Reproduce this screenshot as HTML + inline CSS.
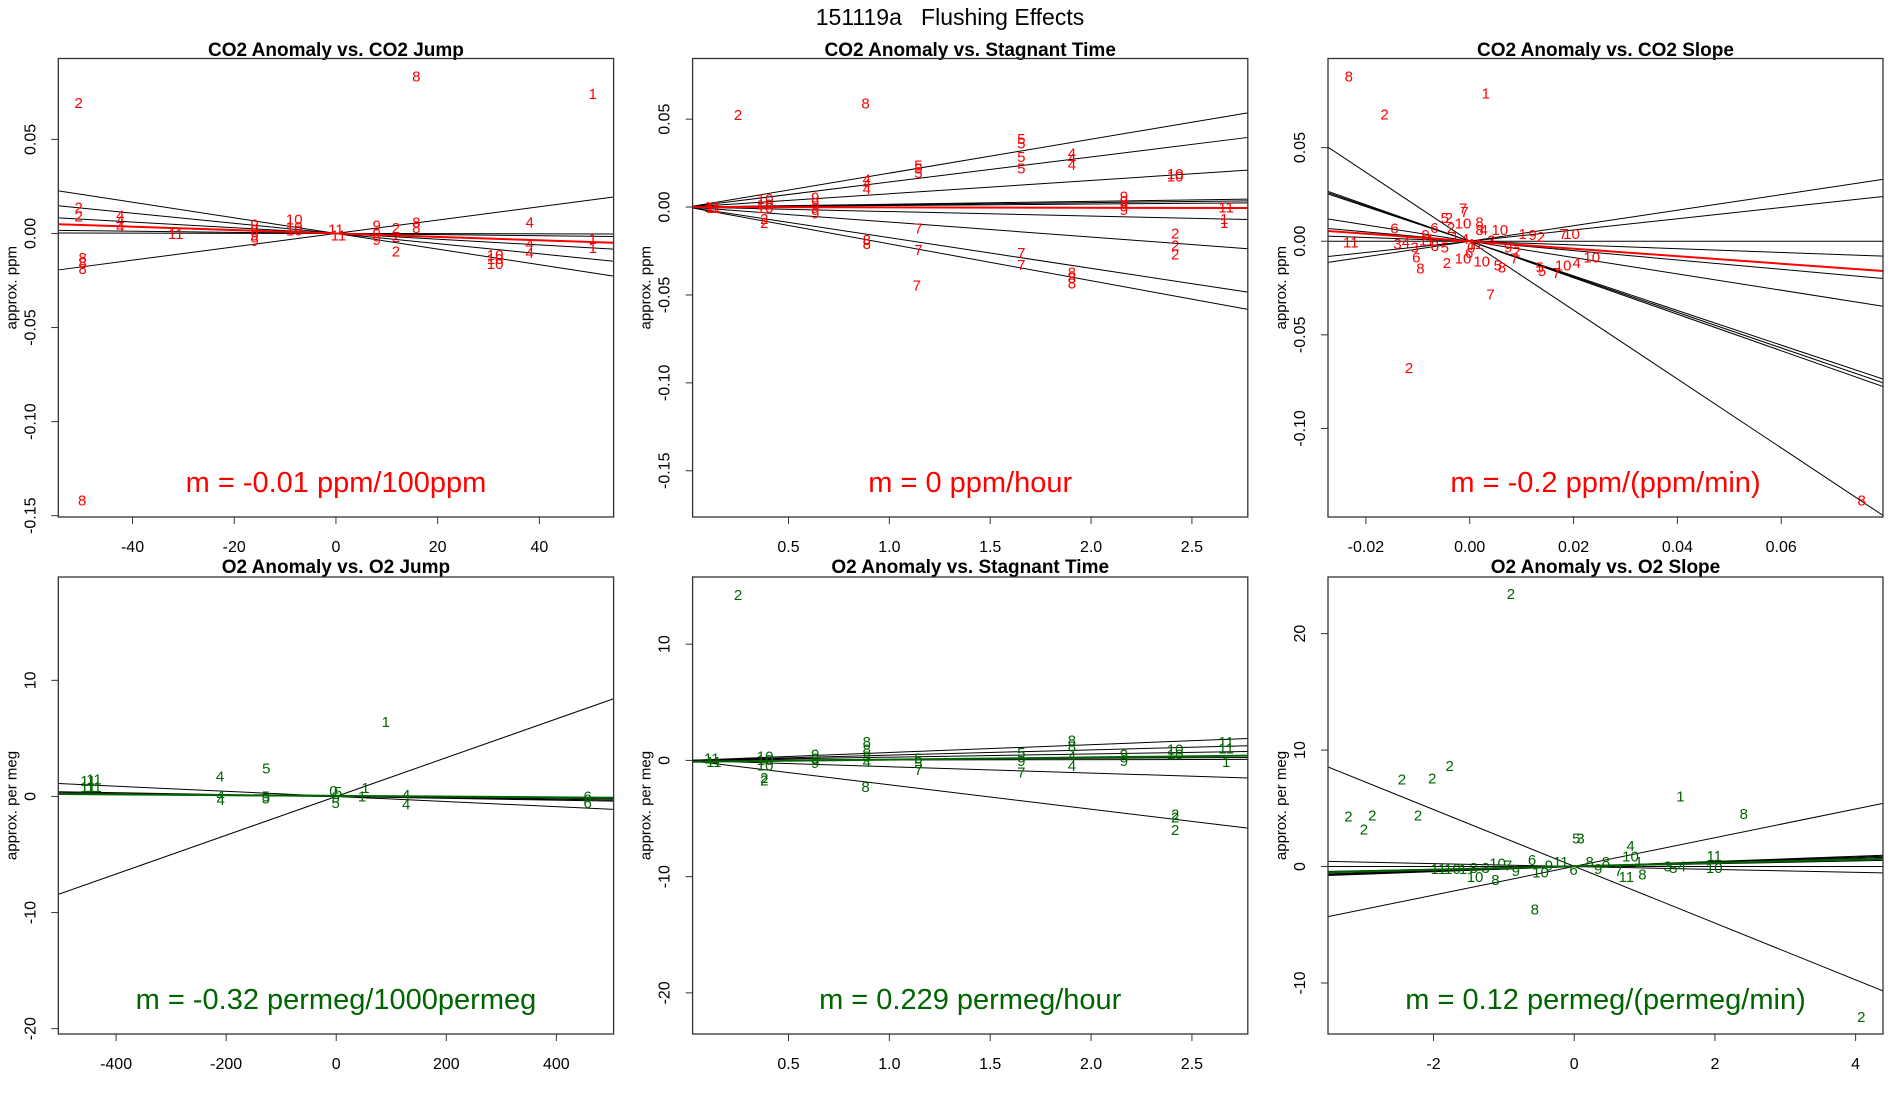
<!DOCTYPE html>
<html><head><meta charset="utf-8"><style>
html,body{margin:0;padding:0;background:#fff;}
svg{display:block;font-family:"Liberation Sans",sans-serif;}
</style></head><body>
<svg id="chart" width="1900" height="1100" viewBox="0 0 1900 1100" xmlns="http://www.w3.org/2000/svg">
<rect width="1900" height="1100" fill="#fff"/>
<text x="950" y="25" text-anchor="middle" font-size="23" style="white-space:pre" xml:space="preserve">151119a   Flushing Effects</text>
</svg>
<script>
// ---- Panel 1: CO2 Anomaly vs CO2 Jump ----
const p1X=[-50.6,15.8,50.5,-50.6,-50.6,-42.4,-42.4,-42.4,-31.5,-16,-16,-16,-16,-8.2,-8.2,-8.2,0,0.5,8,8,8,11.8,11.8,11.8,15.8,15.8,38.1,38.1,38.1,31.3,31.3,31.3,50.5,50.5,-49.8,-49.8,-49.8,-49.9];
const p1Y=[0.0693,0.0834,0.074,0.0137,0.009,0.0095,0.007,0.0034,-0.0004,0.0048,0.0019,-0.001,-0.004,0.0073,0.0034,0.0015,0.002,-0.001,0.0042,0,-0.0034,0.0029,-0.0019,-0.0095,0.0057,0.0029,0.0057,-0.0057,-0.0105,-0.0115,-0.0137,-0.0162,-0.0029,-0.0076,-0.013,-0.0158,-0.019,-0.142];
const p1Lab=["2","8","1","2","2","4","4","4","11","9","9","9","9","10","10","10","11","11","9","9","9","2","2","2","8","8","4","4","4","10","10","10","1","1","8","8","8","8"];
const p1LineA=[0,0,0,0,0,0];
const p1LineB=[-0.000415,-0.00027,-0.000152,-0.00003,-0.000005,0.000355];
const p1FitA=[0];
const p1FitB=[-0.00009];

// ---- Panel 2: CO2 Anomaly vs Stagnant Time ----
const p2X=[0.25,0.882,1.654,1.654,1.654,1.654,1.905,1.905,1.905,1.144,1.144,1.144,0.888,0.888,0.888,2.417,2.417,0.12,0.13,0.384,0.384,0.384,0.632,0.632,0.632,0.632,2.163,2.163,2.163,2.163,2.67,2.66,2.66,0.38,0.38,0.888,0.888,1.144,1.144,1.136,1.654,1.654,1.905,1.905,1.905,2.417,2.417,2.417];
const p2Y=[0.0524,0.059,0.0386,0.0361,0.0286,0.0218,0.0304,0.0276,0.0239,0.0235,0.0218,0.0194,0.0157,0.0131,0.0102,0.0188,0.0173,0,-0.0006,0.0045,0.0014,-0.0006,0.0055,0.0024,-0.0006,-0.0037,0.0059,0.0035,0.0004,-0.0016,-0.0002,-0.0067,-0.0092,-0.0067,-0.0092,-0.0186,-0.021,-0.0122,-0.0245,-0.0445,-0.0261,-0.0329,-0.0373,-0.0404,-0.0435,-0.0149,-0.022,-0.0271];
const p2Lab=["2","8","5","5","5","5","4","4","4","5","5","5","4","4","4","10","10","11","11","10","10","10","9","9","9","9","9","9","9","9","11","1","1","2","2","8","8","7","7","7","7","7","8","8","8","2","2","2"];
const p2LineA=[0,0,0,0,0,0,0,0,0,0];
const p2LineB=[0.0193,0.01426,0.00756,0.00162,0.00126,0.00086,-0.00256,-0.00853,-0.01743,-0.02096];
const p2FitA=[0];
const p2FitB=[-0.0002];

// ---- Panel 3: CO2 Anomaly vs CO2 Slope ----
const p3X=[-0.0233,0.0031,-0.0164,-0.0117,0.004,0.0755,-0.0145,-0.0229,-0.0139,-0.0123,-0.0106,-0.0103,-0.0095,-0.0013,-0.001,-0.0048,-0.004,-0.0068,-0.0036,-0.0013,0.0019,0.0019,0.0027,0.0058,0.0102,0.0121,0.0137,0.018,0.0196,0.0235,0.0206,0.018,0.0135,0.0167,0.0139,0.0054,0.0062,0.0086,0.0023,-0.0013,-0.0044,-0.0085,-0.0083,-0.0067,-0.0048,-0.0028,-0.0009,0.0011,0.0042,0.0074,0.009,-0.0001,0.0003];
const p3Y=[0.0879,0.0789,0.0678,-0.0676,-0.0284,-0.1385,0.0067,-0.0006,-0.0015,-0.0006,-0.0034,-0.0088,-0.0146,0.0176,0.0157,0.0123,0.0123,0.0071,0.0071,0.0096,0.01,0.0061,0.0061,0.0061,0.0038,0.0033,0.0023,0.0038,0.0038,-0.0088,-0.0117,-0.013,-0.014,-0.0169,-0.0159,-0.013,-0.014,-0.0092,-0.0107,-0.0092,-0.0117,0.0033,0.0004,-0.0025,-0.0034,0.0023,0.0013,-0.0015,0.0004,-0.0034,-0.0054,-0.0063,-0.0034];
const p3Lab=["8","1","2","2","7","8","6","11","3","4","3","6","8","7","7","5","2","6","2","10","8","8","4","10","1","9","2","7","10","10","4","10","5","7","5","5","8","7","10","10","2","9","11","8","5","1","4","11","3","9","2","6","0"];
const p3LineA=[0,0,0,0,0,0,0,0,0,0];
const p3LineB=[-1.84,-0.975,-0.95,-0.925,-0.436,-0.25,-0.1,0,0.3,0.415];
const p3FitA=[0];
const p3FitB=[-0.2];

// ---- Panel 4: O2 Anomaly vs O2 Jump ----
const p4X=[90,-127,-211,-451,-440,-451,-440,-210,-210,-128,-128,-5,3,-1,-1,53,47,127,127,457,457];
const p4Y=[6.43,2.4,1.72,1.35,1.45,0.83,0.83,0.06,-0.31,0,-0.18,0.46,0.37,-0.09,-0.55,0.74,0,0.12,-0.71,0,-0.55];
const p4Lab=["1","5","4","11","11","11","11","4","4","5","5","0","5","5","5","1","1","4","4","6","6"];
const p4LineA=[0,0,0,0,0];
const p4LineB=[0.0167,-0.0022,-0.0008,-0.0006,-0.0004];
const p4FitA=[0.05];
const p4FitB=[-0.00032];

// ---- Panel 5: O2 Anomaly vs Stagnant Time ----
const p5X=[0.25,0.12,0.13,0.384,0.384,0.384,0.38,0.38,0.632,0.632,0.632,0.888,0.888,0.888,0.888,0.882,1.144,1.144,1.144,1.654,1.654,1.654,1.905,1.905,1.905,1.905,2.163,2.163,2.417,2.417,2.417,2.417,2.417,2.67,2.67,2.67];
const p5Y=[14.25,0.18,-0.12,0.34,0.03,-0.43,-1.5,-1.75,0.49,0.18,-0.22,1.57,0.95,0.34,-0.12,-2.28,0.18,-0.28,-0.83,0.65,-0.03,-1.05,1.72,1.2,0.34,-0.49,0.49,-0.03,0.95,0.49,-4.65,-4.9,-5.97,1.57,1.02,-0.12];
const p5Lab=["2","11","11","10","10","10","2","2","9","9","9","8","8","8","4","8","5","5","7","5","9","7","8","8","4","4","9","9","10","10","2","2","2","11","11","1"];
const p5LineA=[0,0,0,0,0,0,0];
const p5LineB=[0.677,0.454,0.277,0.09,0.032,-0.544,-2.1];
const p5FitA=[-0.12];
const p5FitB=[0.19];

// ---- Panel 6: O2 Anomaly vs O2 Slope ----
const p6X=[-0.9,-1.77,-2.45,-2.02,-3.21,-2.87,-2.22,-2.99,1.51,2.41,0.03,0.09,0.8,0.8,0.92,1.99,1.99,1.33,1.41,1.53,0.74,0.97,-0.56,-1.12,-1.41,-1.93,-1.73,-1.58,-1.43,-1.26,-1.09,-0.94,-0.83,-0.6,-0.48,-0.36,-0.19,-0.01,0.22,0.34,0.45,0.63,4.08];
const p6Y=[23.4,8.65,7.48,7.57,4.31,4.4,4.4,3.17,6.03,4.49,2.4,2.4,1.78,0.86,0.4,0.92,-0.12,0,-0.12,0,-0.92,-0.68,-3.69,-1.14,-0.92,-0.22,-0.22,-0.22,-0.12,-0.12,0.25,0.09,-0.37,0.55,-0.52,0.09,0.4,-0.31,0.4,-0.22,0.4,-0.37,-12.9];
const p6Lab=["2","2","2","2","2","2","2","2","1","8","5","3","4","10","1","11","10","3","5","4","11","8","8","8","10","11","10","1","8","3","10","7","9","6","10","9","11","6","8","9","8","7","2"];
const p6LineA=[0.02,0.01,0,0,0,0,0,0,0];
const p6LineB=[-2.437,1.233,-0.125,0.2,0.22,0.18,0.15,0.12,0];
const p6FitA=[0.02];
const p6FitB=[0.145];

const NS="http://www.w3.org/2000/svg";
const svg=document.getElementById('chart');
function mk(tag,attrs,parent){const e=document.createElementNS(NS,tag);for(const k in attrs)e.setAttribute(k,attrs[k]);(parent||svg).appendChild(e);return e;}

function panel(id,cfg,X,Y,LAB,LA,LB,FA,FB){
  const [L,T,R,B]=cfg.box;
  const sx=v=>L+(v-cfg.xr[0])/(cfg.xr[1]-cfg.xr[0])*(R-L);
  const sy=v=>B-(v-cfg.yr[0])/(cfg.yr[1]-cfg.yr[0])*(B-T);
  const g=mk('g',{});
  
  
  const clip=mk('clipPath',{id:'clip-'+id},g);
  mk('rect',{x:L,y:T,width:R-L,height:B-T},clip);
  const t=mk('text',{x:(L+R)/2,y:cfg.titleY,'text-anchor':'middle','font-size':19,'font-weight':'bold'},g);
  t.textContent=cfg.title;
  
  
  const lg=mk('g',{'clip-path':'url(#clip-'+id+')'},g);
  for(let i=0;i<LA.length;i++){
    const x0=cfg.xr[0],x1=cfg.xr[1];
    const ln=mk('line',{x1:sx(x0),y1:sy(LA[i]+LB[i]*x0),x2:sx(x1),y2:sy(LA[i]+LB[i]*x1),stroke:'#000','stroke-width':1},lg);
    
    
  }
  for(let i=0;i<X.length;i++){
    const tx=mk('text',{x:sx(X[i]),y:sy(Y[i])+5,'text-anchor':'middle','font-size':15,fill:cfg.color},lg);
    tx.textContent=LAB[i];
    
    
  }
  for(let i=0;i<FA.length;i++){
    const x0=cfg.xr[0],x1=cfg.xr[1];
    const ln=mk('line',{x1:sx(x0),y1:sy(FA[i]+FB[i]*x0),x2:sx(x1),y2:sy(FA[i]+FB[i]*x1),stroke:cfg.color,'stroke-width':2},lg);
    
    
  }
  const bx=mk('rect',{x:L,y:T,width:R-L,height:B-T,fill:'none',stroke:'#333','stroke-width':1.3},g);
  
  
  cfg.xt.forEach((v,i)=>{
    const x=sx(v);
    mk('line',{x1:x,y1:B,x2:x,y2:B+7,stroke:'#333'},g);
    const tl=mk('text',{x:x,y:B+35,'text-anchor':'middle','font-size':16},g);
    tl.textContent=cfg.xl[i];
    
    
  });
  cfg.yt.forEach((v,i)=>{
    const y=sy(v);
    mk('line',{x1:L,y1:y,x2:L-7,y2:y,stroke:'#333'},g);
    const tl=mk('text',{x:0,y:0,'text-anchor':'middle','font-size':16,transform:`translate(${L-23},${y}) rotate(-90)`},g);
    tl.textContent=cfg.yl[i];
    
    
  });
  const yl=mk('text',{x:0,y:0,'text-anchor':'middle','font-size':15,transform:`translate(${L-42},${(T+B)/2}) rotate(-90)`},g);
  yl.textContent=cfg.ylab;
  
  
  const m=mk('text',{x:(L+R)/2,y:B-25,'text-anchor':'middle','font-size':29,fill:cfg.color},g);
  m.textContent=cfg.mtext;
  
  
}
const R='#ff0000',G='#006400';
const ytCO2=[-0.15,-0.1,-0.05,0,0.05], ylCO2=["-0.15","-0.10","-0.05","0.00","0.05"];
const xtT=[0.5,1,1.5,2,2.5], xlT=["0.5","1.0","1.5","2.0","2.5"];
panel('co2-jump',{box:[58.3,58.5,613.6,517],xr:[-54.6,54.6],yr:[-0.1507,0.093],title:'CO2 Anomaly vs. CO2 Jump',titleY:56,color:R,
  xt:[-40,-20,0,20,40],xl:["-40","-20","0","20","40"],yt:ytCO2,yl:ylCO2,ylab:'approx. ppm',mtext:'m = -0.01 ppm/100ppm'},p1X,p1Y,p1Lab,p1LineA,p1LineB,p1FitA,p1FitB);
panel('co2-time',{box:[692.6,58.5,1247.8,517],xr:[0.0246,2.777],yr:[-0.1763,0.0845],title:'CO2 Anomaly vs. Stagnant Time',titleY:56,color:R,
  xt:xtT,xl:xlT,yt:ytCO2,yl:ylCO2,ylab:'approx. ppm',mtext:'m = 0 ppm/hour'},p2X,p2Y,p2Lab,p2LineA,p2LineB,p2FitA,p2FitB);
panel('co2-slope',{box:[1328,58.5,1883,517],xr:[-0.0273,0.0796],yr:[-0.1473,0.0976],title:'CO2 Anomaly vs. CO2 Slope',titleY:56,color:R,
  xt:[-0.02,0,0.02,0.04,0.06],xl:["-0.02","0.00","0.02","0.04","0.06"],yt:[-0.1,-0.05,0,0.05],yl:["-0.10","-0.05","0.00","0.05"],ylab:'approx. ppm',mtext:'m = -0.2 ppm/(ppm/min)'},p3X,p3Y,p3Lab,p3LineA,p3LineB,p3FitA,p3FitB);
panel('o2-jump',{box:[58.3,577,613.6,1034],xr:[-505,504],yr:[-20.46,18.9],title:'O2 Anomaly vs. O2 Jump',titleY:573,color:G,
  xt:[-400,-200,0,200,400],xl:["-400","-200","0","200","400"],yt:[-20,-10,0,10],yl:["-20","-10","0","10"],ylab:'approx. per meg',mtext:'m = -0.32 permeg/1000permeg'},p4X,p4Y,p4Lab,p4LineA,p4LineB,p4FitA,p4FitB);
panel('o2-time',{box:[692.6,577,1247.8,1034],xr:[0.0246,2.777],yr:[-23.54,15.78],title:'O2 Anomaly vs. Stagnant Time',titleY:573,color:G,
  xt:xtT,xl:xlT,yt:[-20,-10,0,10],yl:["-20","-10","0","10"],ylab:'approx. per meg',mtext:'m = 0.229 permeg/hour'},p5X,p5Y,p5Lab,p5LineA,p5LineB,p5FitA,p5FitB);
panel('o2-slope',{box:[1328,577,1883,1034],xr:[-3.5,4.389],yr:[-14.38,24.86],title:'O2 Anomaly vs. O2 Slope',titleY:573,color:G,
  xt:[-2,0,2,4],xl:["-2","0","2","4"],yt:[-10,0,10,20],yl:["-10","0","10","20"],ylab:'approx. per meg',mtext:'m = 0.12 permeg/(permeg/min)'},p6X,p6Y,p6Lab,p6LineA,p6LineB,p6FitA,p6FitB);
</script>
</body></html>
